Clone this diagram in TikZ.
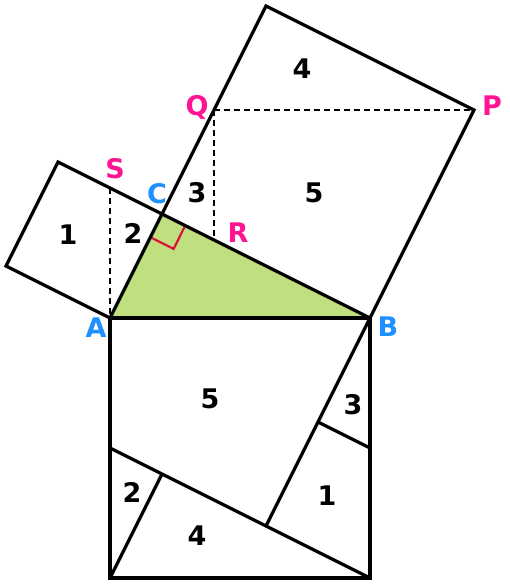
\documentclass[tikz,border=0pt]{standalone}
\usepackage{fontspec}
\setmainfont{DejaVu Sans}
\definecolor{lblue}{HTML}{1E90FF}
\definecolor{lpink}{HTML}{FF1493}
\definecolor{tgreen}{HTML}{C0DF7E}
\definecolor{rmark}{HTML}{DC143C}
\begin{document}
\begin{tikzpicture}[x=1pt,y=-1pt,
  edge/.style={line width=3.3pt,black},
  dashln/.style={line width=2.4pt,dash pattern=on 6pt off 4pt},
  num/.style={font=\fontsize{27}{31}\selectfont\bfseries,text=black,inner sep=0pt},
  bluelbl/.style={font=\fontsize{27}{31}\selectfont\bfseries,text=lblue,inner sep=0pt},
  pinklbl/.style={font=\fontsize{27}{31}\selectfont\bfseries,text=lpink,inner sep=0pt}]
\useasboundingbox (0,0) rectangle (510,585);
% points
\coordinate (A) at (110,318);
\coordinate (B) at (370,318);
\coordinate (C) at (162,214);
\coordinate (E) at (58,162);
\coordinate (F) at (6,266);
\coordinate (D) at (266,6);
\coordinate (P) at (474,110);
\coordinate (Q) at (214,110);
\coordinate (R) at (214,240);
\coordinate (S) at (110,188);
\coordinate (G) at (370,578);
\coordinate (H) at (110,578);
\coordinate (J) at (110,448);
\coordinate (K) at (266,526);
\coordinate (M) at (162,474);
\coordinate (N) at (318,422);
\coordinate (T) at (370,448);
\coordinate (U1) at (150.4,237.2);
\coordinate (U2) at (173.6,248.9);
\coordinate (U3) at (185.2,225.6);
% triangle
\fill[tgreen] (A) -- (C) -- (B) -- cycle;
\draw[rmark,line width=2.2pt] (U1) -- (U2) -- (U3);
% dashed
\draw[dashln] (S) -- (A);
\draw[dashln] (Q) -- (R);
\draw[dashln] (Q) -- (P);
% squares
\draw[edge] (A) -- (C) -- (E) -- (F) -- cycle;
\draw[edge] (C) -- (D) -- (P) -- (B) -- cycle;
\draw[edge] (A) -- (B) -- (G) -- (H) -- cycle;
\draw[edge] (B) -- (K);
\draw[edge] (J) -- (G);
\draw[edge] (H) -- (M);
\draw[edge] (N) -- (T);
% piece numbers
\node[num] (n4t) at (302,69) {4};
\node[num] (n5t) at (314,193) {5};
\node[num] (n3t) at (197,193) {3};
\node[num] (n2t) at (133,233) {2};
\node[num] (n1t) at (68,235) {1};
\node[num] (n5b) at (210,399) {5};
\node[num] (n3b) at (353,405) {3};
\node[num] (n1b) at (327,496) {1};
\node[num] (n2b) at (132,492) {2};
\node[num] (n4b) at (197,536) {4};
% point labels
\node[bluelbl] (lA) at (96,328) {A};
\node[bluelbl] (lB) at (388,327) {B};
\node[bluelbl] (lC) at (157,194) {C};
\node[pinklbl] (lS) at (115,169) {S};
\node[pinklbl] (lQ) at (197,107) {Q};
\node[pinklbl] (lP) at (492,106) {P};
\node[pinklbl] (lR) at (238,233) {R};
\end{tikzpicture}
\end{document}
